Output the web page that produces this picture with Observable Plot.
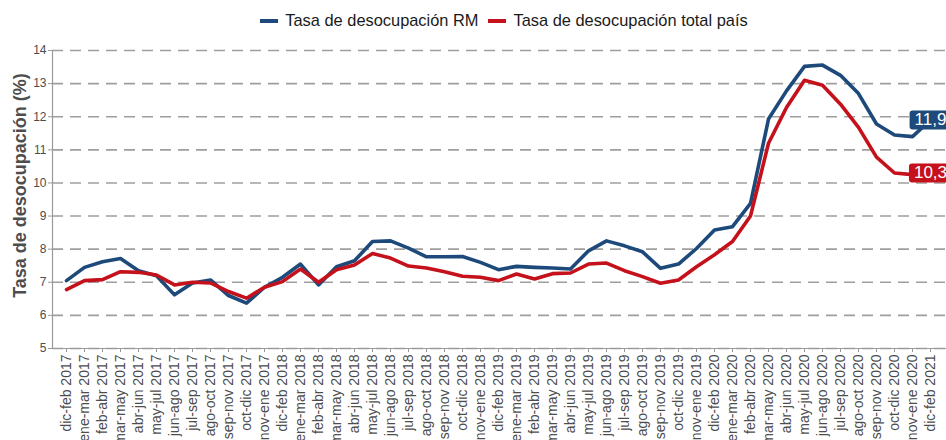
<!DOCTYPE html>
<html><head><meta charset="utf-8">
<script src="https://cdn.jsdelivr.net/npm/d3@7"></script>
<script src="https://cdn.jsdelivr.net/npm/@observablehq/plot@0.6"></script>
<style>
body{margin:0;background:#fff;font-family:"Liberation Sans",Arial,sans-serif;}
#legend{height:38px;box-sizing:border-box;padding-top:3px;padding-left:62px;display:flex;justify-content:center;align-items:center;font-size:16.4px;color:#1a1a1a;}
.item{display:flex;align-items:center;margin:0 5px}
.sw{width:18px;height:4px;margin-right:7px}
</style></head><body>
<div id="legend"></div><div id="chart"></div>
<script>
const periods = [
 "dic-feb 2017","ene-mar 2017","feb-abr 2017","mar-may 2017","abr-jun 2017","may-jul 2017","jun-ago 2017","jul-sep 2017","ago-oct 2017","sep-nov 2017","oct-dic 2017","nov-ene 2017",
 "dic-feb 2018","ene-mar 2018","feb-abr 2018","mar-may 2018","abr-jun 2018","may-jul 2018","jun-ago 2018","jul-sep 2018","ago-oct 2018","sep-nov 2018","oct-dic 2018","nov-ene 2018",
 "dic-feb 2019","ene-mar 2019","feb-abr 2019","mar-may 2019","abr-jun 2019","may-jul 2019","jun-ago 2019","jul-sep 2019","ago-oct 2019","sep-nov 2019","oct-dic 2019","nov-ene 2019",
 "dic-feb 2020","ene-mar 2020","feb-abr 2020","mar-may 2020","abr-jun 2020","may-jul 2020","jun-ago 2020","jul-sep 2020","ago-oct 2020","sep-nov 2020","oct-dic 2020","nov-ene 2020",
 "dic-feb 2021"
];
const rmValues = [
 7.05,7.45,7.62,7.72,7.35,7.2,6.62,6.98,7.07,6.6,6.37,6.85,
 7.15,7.55,6.92,7.47,7.65,8.23,8.25,8.03,7.77,7.77,7.78,7.6,
 7.38,7.48,7.45,7.43,7.4,7.95,8.25,8.1,7.92,7.42,7.55,8.02,
 8.58,8.68,9.38,11.93,12.78,13.52,13.56,13.25,12.7,11.78,11.45,11.4,
 11.9
];
const paisValues = [
 6.78,7.05,7.08,7.32,7.3,7.22,6.92,7.0,6.98,6.72,6.52,6.85,
 7.02,7.4,7.0,7.38,7.52,7.87,7.73,7.49,7.43,7.32,7.18,7.15,
 7.05,7.25,7.1,7.26,7.28,7.55,7.58,7.35,7.17,6.97,7.07,7.47,
 7.83,8.23,9.0,11.2,12.28,13.1,12.95,12.38,11.68,10.78,10.3,10.25,
 10.3
];
const seriesNames = ["Tasa de desocupación RM","Tasa de desocupación total país"];
const seriesColors = ["#1d4a7a","#c4111b"];
const yTicks = [5,6,7,8,9,10,11,12,13,14];
const yTitle = "Tasa de desocupación (%)";

const seriesValues = [rmValues, paisValues];
const data = seriesNames.flatMap((s, k) => periods.map((p, i) => ({periodo: p, valor: seriesValues[k][i], serie: s})));
const lastIdx = periods.length - 1;
const last = seriesNames.map((s, k) => ({periodo: periods[lastIdx], valor: seriesValues[k][lastIdx], serie: s,
  color: seriesColors[k], label: seriesValues[k][lastIdx].toFixed(1).replace(".", ",")}));

// legend
const lg = document.getElementById("legend");
seriesNames.forEach((s, k) => {
  const it = document.createElement("div"); it.className = "item";
  const sw = document.createElement("div"); sw.className = "sw"; sw.style.background = seriesColors[k];
  const tx = document.createElement("span"); tx.textContent = s;
  it.appendChild(sw); it.appendChild(tx); lg.appendChild(it);
});

const chart = Plot.plot({
  width: 946, height: 402,
  marginLeft: 52, marginRight: 0, marginTop: 12, marginBottom: 92,
  style: {fontFamily: "'Liberation Sans', Arial, sans-serif", background: "#fff", overflow: "hidden"},
  x: {type: "point", domain: periods, padding: 0, insetLeft: 11, insetRight: 13},
  y: {domain: [5, 14]},
  color: {domain: seriesNames, range: seriesColors},
  marks: [
    Plot.gridY(yTicks, {stroke: "#9e9e9e", strokeOpacity: 1, strokeWidth: 1.6, strokeDasharray: "11,7"}),
    Plot.ruleY([5], {stroke: "#9a9a9a", strokeWidth: 1.2}),
    Plot.frame({anchor: "left", stroke: "#9a9a9a", strokeWidth: 1.2}),
    Plot.axisY(yTicks, {tickSize: 4, tickPadding: 2, fontSize: 12, fill: "#4d4d4d", stroke: "#9a9a9a", label: null}),
    Plot.axisX({tickRotate: -90, tickSize: 4, tickPadding: 2, fontSize: 14, fill: "#4d4d4d", stroke: "#9a9a9a", label: null}),
    Plot.text([yTitle], {text: d => d, frameAnchor: "left", textAnchor: "middle", rotate: -90, dx: -32, dy: -14, fontSize: 18, fontWeight: "bold", fill: "#4d4d4d"}),
    Plot.lineY(data, {x: "periodo", y: "valor", z: "serie", stroke: "serie", strokeWidth: 3.6, strokeLinejoin: "round"}),
    Plot.text(last, {x: "periodo", y: "valor", text: "label", fill: "white", fontSize: 17, className: "endlabel"})
  ]
});
document.getElementById("chart").appendChild(chart);

// background boxes behind the end labels
const svgNS = "http://www.w3.org/2000/svg";
chart.querySelectorAll("g.endlabel text").forEach((t, i) => {
  const bb = t.getBBox();
  const r = document.createElementNS(svgNS, "rect");
  r.setAttribute("x", bb.x - 5);
  r.setAttribute("y", bb.y);
  r.setAttribute("width", bb.width + 10);
  r.setAttribute("height", bb.height);
  r.setAttribute("rx", 3);
  r.setAttribute("fill", last[i].color);
  if (t.getAttribute("transform")) r.setAttribute("transform", t.getAttribute("transform"));
  t.parentNode.insertBefore(r, t);
});
</script>
</body></html>
